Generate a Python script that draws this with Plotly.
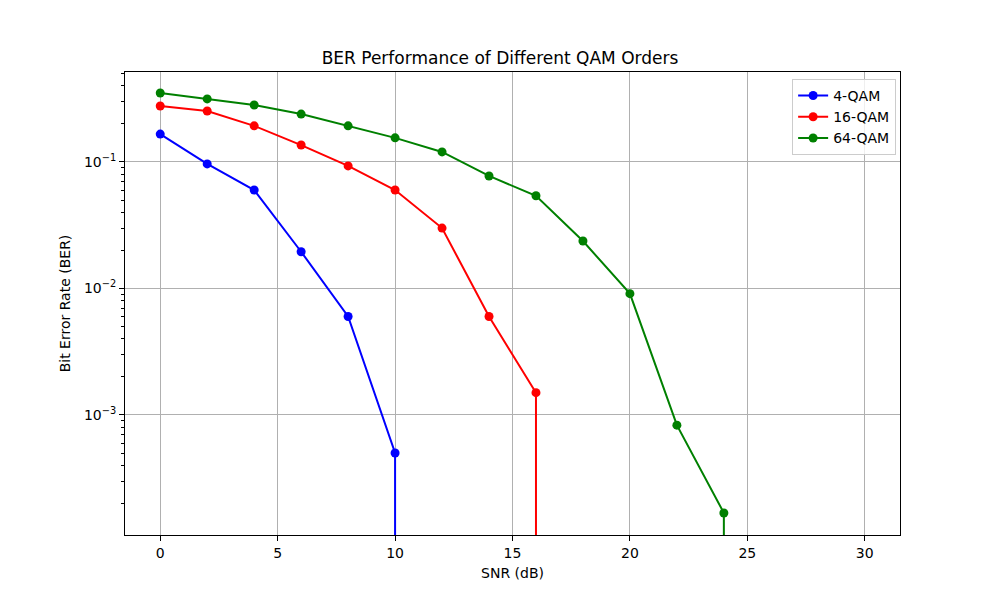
import plotly.graph_objects as go

snr = [0, 2, 4, 6, 8, 10, 12, 14, 16, 18, 20, 22, 24, 26, 28, 30]
ber_4qam = [0.166, 0.0965, 0.060, 0.0195, 0.0060, 0.0005, 0, 0, 0, 0, 0, 0, 0, 0, 0, 0]
ber_16qam = [0.277, 0.253, 0.193, 0.136, 0.093, 0.060, 0.030, 0.0060, 0.0015, 0, 0, 0, 0, 0, 0, 0]
ber_64qam = [0.351, 0.315, 0.282, 0.239, 0.193, 0.155, 0.120, 0.0775, 0.054, 0.0237, 0.0091,
             0.00083, 0.000168, 0, 0, 0]

series = [("4-QAM", ber_4qam, "blue"), ("16-QAM", ber_16qam, "red"), ("64-QAM", ber_64qam, "green")]

FONT = "DejaVu Sans"
TINY = 1e-12  # zero BER is clipped far below the visible range, as matplotlib does

fig = go.Figure()
for name, vals, color in series:
    xs, ys = [], []
    for i, (x, v) in enumerate(zip(snr, vals)):
        if v > 0:
            xs.append(x); ys.append(v)
        else:
            if i > 0 and vals[i - 1] > 0:
                # clipped drop straight down from the last non-zero point
                xs.append(snr[i - 1]); ys.append(TINY)
            xs.append(x); ys.append(TINY)
    fig.add_trace(go.Scatter(
        x=xs, y=ys, mode="lines+markers", name=name,
        line=dict(color=color, width=2),
        marker=dict(color=color, size=9, opacity=1, line=dict(width=0)),
        opacity=1, cliponaxis=True,
    ))

tickvals = [1e-3, 1e-2, 1e-1]
ticktext = ["10<sup>−3</sup>", "10<sup>−2</sup>", "10<sup>−1</sup>"]

fig.update_layout(
    width=1000, height=600,
    paper_bgcolor="white", plot_bgcolor="white",
    margin=dict(l=125, r=100, t=72, b=65),
    font=dict(family=FONT, size=14, color="black"),
    title=dict(text="BER Performance of Different QAM Orders", x=0.5, xanchor="center",
               y=1 - 58 / 600, yanchor="middle", font=dict(size=17, family=FONT)),
    showlegend=True,
    legend=dict(x=0.995, xanchor="right", y=0.985, yanchor="top",
                bordercolor="#cccccc", borderwidth=1, bgcolor="rgba(255,255,255,0.8)",
                font=dict(size=14), tracegroupgap=0),
)
fig.update_xaxes(
    range=[-1.5, 31.5], tickvals=[0, 5, 10, 15, 20, 25, 30],
    showgrid=True, gridcolor="#b0b0b0", gridwidth=1,
    showline=True, linecolor="black", linewidth=1, mirror=True,
    ticks="outside", ticklen=5, tickcolor="black", zeroline=False,
    title=dict(text="SNR (dB)", font=dict(size=14), standoff=8),
)
fig.update_yaxes(
    type="log", range=[-3.949, -0.289],
    tickvals=tickvals, ticktext=ticktext,
    showgrid=True, gridcolor="#b0b0b0", gridwidth=1,
    showline=True, linecolor="black", linewidth=1, mirror=True,
    ticks="outside", ticklen=5, tickcolor="black", zeroline=False,
    minor=dict(ticks="outside", ticklen=3, tickcolor="black", dtick="D1", showgrid=False),
    title=dict(text="Bit Error Rate (BER)", font=dict(size=14), standoff=10),
)

fig.write_html("out.html")
